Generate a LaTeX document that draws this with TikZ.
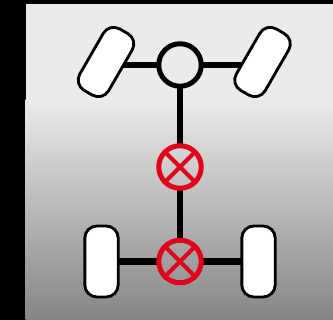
\documentclass[tikz,border=0pt]{standalone}
\usetikzlibrary{backgrounds}
\definecolor{panelgrey}{HTML}{EBEBEB}
\definecolor{panelbottom}{HTML}{858585}
\definecolor{lockred}{HTML}{E2001A}
\tikzset{
	wheel/.style={draw, fill=white, rectangle, rounded corners=0.36cm, line width=0.085cm, minimum width=1cm, minimum height=2.13cm, outer sep=0},
	hubring/.style={draw, circle, line width=0.15cm, minimum size=1.275cm, inner sep=0, outer sep=0},
	lockring/.style={hubring, draw=lockred},
	shaft/.style={line width=0.19cm}
}
\begin{document}
\begin{tikzpicture}[x=0.03cm,y=-0.03cm]
\node [hubring] (hub) at (180,65) {};
\node [lockring] (lockmid) at (180,167) {};
\node [lockring] (lockrear) at (180,261.5) {};
\node [wheel, rotate=-30] (wheelfl) at (106,62) {};
\node [wheel, rotate=-30] (wheelfr) at (262.5,62) {};
\node [wheel] (wheelrl) at (101.5,261.5) {};
\node [wheel] (wheelrr) at (258.5,261.5) {};
\foreach \nodename in {lockmid,lockrear} {
	\draw [line width=0.12cm, lockred] (\nodename.45) -- (\nodename.225);
	\draw [line width=0.12cm, lockred] (\nodename.135) -- (\nodename.315);
}
\begin{scope}[on background layer]
\fill [black] (0,0) rectangle (333,320);
\fill [panelgrey] (25.5,4) rectangle (333,100);
\shade [top color=panelgrey, bottom color=panelbottom] (25.5,100) rectangle (333,320);
\draw [shaft] (hub.west) -- (hub.west -| wheelfl);
\draw [shaft] (hub.east) -- (hub.east -| wheelfr);
\draw [shaft] (hub) -- (lockmid);
\draw [shaft] (lockmid) -- (lockrear);
\draw [shaft] (lockrear) -- (wheelrl);
\draw [shaft] (lockrear) -- (wheelrr);
\end{scope}
\end{tikzpicture}
\end{document}
